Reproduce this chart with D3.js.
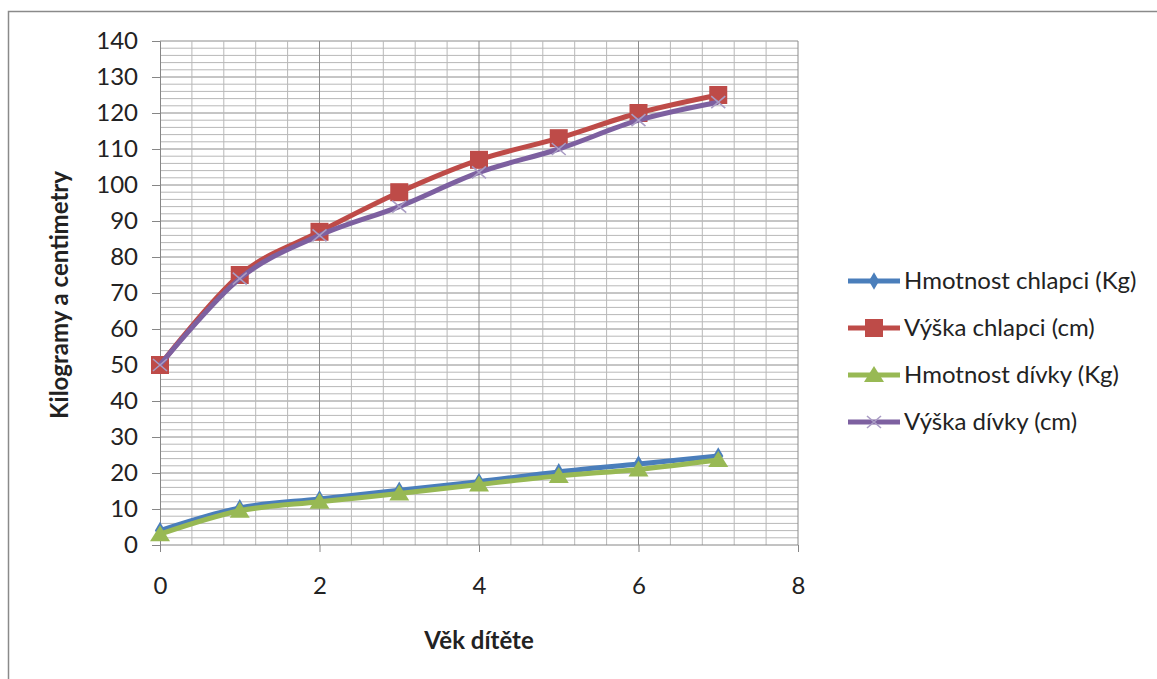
<!DOCTYPE html>
<html>
<head>
<meta charset="utf-8">
<script src="https://cdn.jsdelivr.net/npm/d3@7"></script>
<style>
  body { margin: 0; background: #fff; }
  text { font-family: Lato, "Open Sans", sans-serif; fill: #222; }
</style>
</head>
<body>
<script>
// data
const ages = [0, 1, 2, 3, 4, 5, 6, 7];
const weightBoys = [4, 10.3, 12.8, 15.2, 17.6, 20.3, 22.5, 24.7];
const heightBoys = [50, 75, 87, 98, 107, 113, 120, 125];
const weightGirls = [3, 9.5, 12, 14.3, 16.8, 19.2, 21, 23.6];
const heightGirls = [50, 74, 86, 94, 103.5, 110, 118, 123];
const seriesNames = ['Hmotnost chlapci (Kg)', 'Výška chlapci (cm)', 'Hmotnost dívky (Kg)', 'Výška dívky (cm)'];
const xTicks = [0, 2, 4, 6, 8];
const yTicks = d3.range(0, 141, 10);

const W = 1157, H = 679;
const plot = {left: 160, right: 798, top: 41, bottom: 545};

const series = [
    {name: seriesNames[0], values: weightBoys, color: '#4a7ebb', marker: 'diamond'},
    {name: seriesNames[1], values: heightBoys, color: '#be4b48', marker: 'square'},
    {name: seriesNames[2], values: weightGirls, color: '#98b954', marker: 'triangle'},
    {name: seriesNames[3], values: heightGirls, color: '#7d60a0', marker: 'cross'}
];

const x = d3.scaleLinear().domain([0, 8]).range([plot.left, plot.right]);
const y = d3.scaleLinear().domain([0, 140]).range([plot.bottom, plot.top]);

const svg = d3.select('body').append('svg')
    .attr('width', W)
    .attr('height', H);

// outer frame (only left and top visible)
svg.append('path')
    .attr('d', 'M8.5,' + H + 'V11.5H' + W)
    .attr('fill', 'none')
    .attr('stroke', '#8a8a8a')
    .attr('stroke-width', 1.5);

// gridlines
const grid = svg.append('g');
d3.range(2, 141, 2).forEach(function(v) {
    grid.append('line')
        .attr('x1', plot.left).attr('x2', plot.right)
        .attr('y1', y(v)).attr('y2', y(v))
        .attr('stroke', v % 10 === 0 ? '#8c8c8c' : '#b8b8b8')
        .attr('stroke-width', 1);
});
d3.range(1, 21).forEach(function(i) {
    const v = i * 0.4;
    grid.append('line')
        .attr('x1', x(v)).attr('x2', x(v))
        .attr('y1', plot.top).attr('y2', plot.bottom)
        .attr('stroke', i % 5 === 0 ? '#8c8c8c' : '#b8b8b8')
        .attr('stroke-width', 1);
});

// axes
const yAxis = d3.axisLeft(y).tickValues(yTicks).tickSize(8).tickPadding(14);
const xAxis = d3.axisBottom(x).tickValues(xTicks).tickSize(7).tickPadding(25);

svg.append('g')
    .attr('transform', 'translate(' + plot.left + ',0)')
    .call(yAxis)
    .call(function(g) {
        g.selectAll('path, line').attr('stroke', '#868686');
        g.selectAll('text').attr('font-size', 24).attr('fill', '#222').style('font-family', 'Lato');
    });

svg.append('g')
    .attr('transform', 'translate(0,' + plot.bottom + ')')
    .call(xAxis)
    .call(function(g) {
        g.select('.domain').attr('d', 'M' + plot.left + ',0H' + plot.right);
        g.selectAll('path, line').attr('stroke', '#868686');
        g.selectAll('text').attr('font-size', 24).attr('fill', '#222').style('font-family', 'Lato');
    });

// axis titles
svg.append('text')
    .attr('transform', 'translate(68,' + ((plot.top + plot.bottom) / 2 + 2) + ') rotate(-90)')
    .attr('text-anchor', 'middle')
    .attr('font-size', 24)
    .attr('font-weight', 'bold')
    .text('Kilogramy a centimetry');

svg.append('text')
    .attr('x', (plot.left + plot.right) / 2)
    .attr('y', 649)
    .attr('text-anchor', 'middle')
    .attr('font-size', 24)
    .attr('font-weight', 'bold')
    .text('Věk dítěte');

function drawMarker(g, type, color, cx, cy) {
    if (type === 'diamond') {
        g.append('path')
            .attr('d', d3.symbol(d3.symbolDiamond, 90)())
            .attr('transform', 'translate(' + cx + ',' + cy + ')')
            .attr('fill', color);
    } else if (type === 'square') {
        g.append('rect')
            .attr('x', cx - 9).attr('y', cy - 9)
            .attr('width', 18).attr('height', 18)
            .attr('fill', color);
    } else if (type === 'triangle') {
        g.append('path')
            .attr('d', 'M' + cx + ',' + (cy - 9) + 'L' + (cx + 10) + ',' + (cy + 7) + 'L' + (cx - 10) + ',' + (cy + 7) + 'Z')
            .attr('fill', color);
    } else {
        g.append('path')
            .attr('d', 'M' + (cx - 7) + ',' + (cy - 6) + 'L' + (cx + 7) + ',' + (cy + 6) +
                'M' + (cx - 7) + ',' + (cy + 6) + 'L' + (cx + 7) + ',' + (cy - 6))
            .attr('stroke', '#a99cc4')
            .attr('stroke-width', 1.6)
            .attr('fill', 'none');
    }
}

const line = d3.line()
    .x(function(d, i) { return x(ages[i]); })
    .y(function(d) { return y(d); })
    .curve(d3.curveCardinal.tension(0));

series.forEach(function(s) {
    const g = svg.append('g');
    g.append('path')
        .attr('d', line(s.values))
        .attr('fill', 'none')
        .attr('stroke', s.color)
        .attr('stroke-width', 5)
        .attr('stroke-linejoin', 'round');
    s.values.forEach(function(v, i) {
        drawMarker(g, s.marker, s.color, x(ages[i]), y(v));
    });
});

// legend
const legend = svg.append('g');
series.forEach(function(s, i) {
    const ly = 281 + i * 47;
    const row = legend.append('g');
    row.append('line')
        .attr('x1', 848).attr('x2', 900)
        .attr('y1', ly).attr('y2', ly)
        .attr('stroke', s.color)
        .attr('stroke-width', 5);
    drawMarker(row, s.marker, s.color, 874, ly);
    row.append('text')
        .attr('x', 904)
        .attr('y', ly)
        .attr('dy', '0.35em')
        .attr('font-size', 24)
        .text(s.name);
});
</script>
</body>
</html>
